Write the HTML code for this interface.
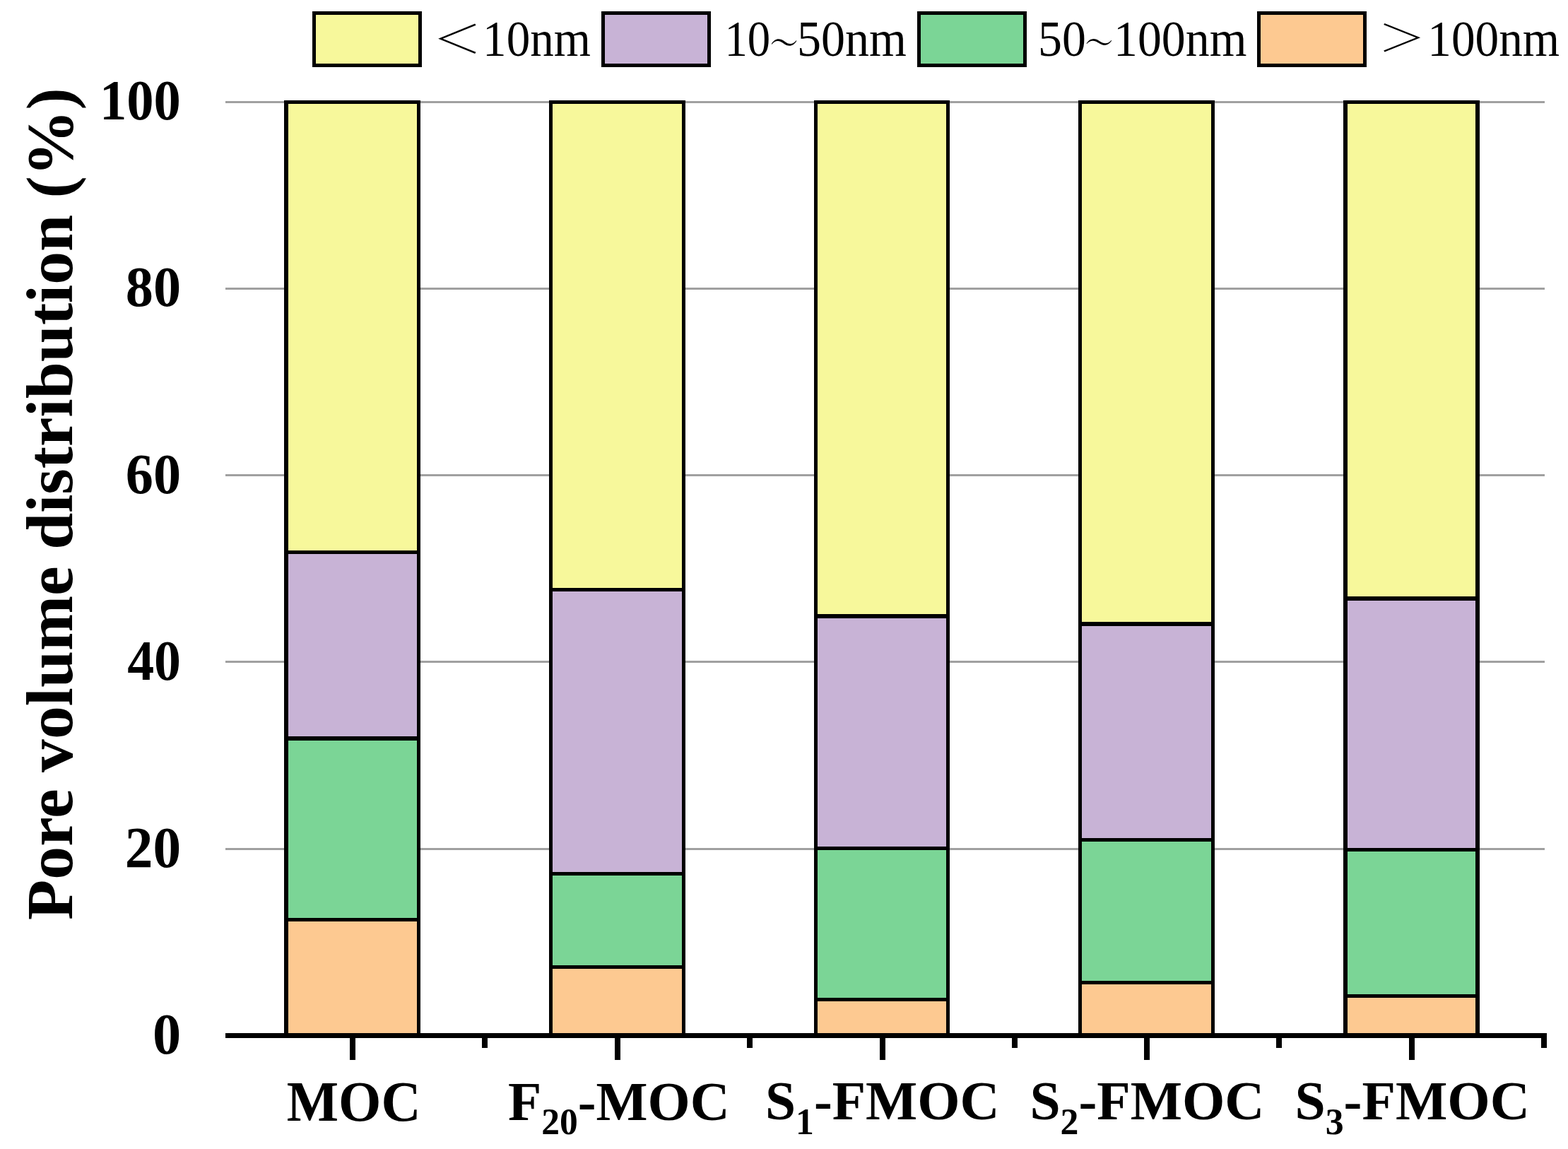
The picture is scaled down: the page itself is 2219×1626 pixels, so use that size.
<!DOCTYPE html><html><head><meta charset="utf-8"><title>Pore volume distribution</title>
<style>html,body{margin:0;padding:0;background:#fff;overflow:hidden;width:2219px;height:1626px}svg{display:block;position:absolute;left:0;top:0}</style></head><body>
<svg width="2219" height="1626" viewBox="0 0 2219 1626" shape-rendering="crispEdges">
<rect x="0" y="0" width="2219" height="1626" fill="#fff"/>
<rect x="319" y="143" width="1867" height="3" fill="#A0A0A0"/>
<rect x="319" y="407" width="1867" height="3" fill="#A0A0A0"/>
<rect x="319" y="671" width="1867" height="3" fill="#A0A0A0"/>
<rect x="319" y="935" width="1867" height="3" fill="#A0A0A0"/>
<rect x="319" y="1200" width="1867" height="3" fill="#A0A0A0"/>
<rect x="402" y="142" width="193" height="1323" fill="#000"/>
<rect x="408" y="147" width="182" height="632" fill="#F7F89B"/>
<rect x="408" y="784" width="182" height="258" fill="#C8B3D6"/>
<rect x="408" y="1048" width="182" height="251" fill="#7BD596"/>
<rect x="408" y="1304" width="182" height="158" fill="#FDC991"/>
<rect x="777" y="142" width="193" height="1323" fill="#000"/>
<rect x="782" y="147" width="183" height="685" fill="#F7F89B"/>
<rect x="782" y="837" width="183" height="397" fill="#C8B3D6"/>
<rect x="782" y="1239" width="183" height="127" fill="#7BD596"/>
<rect x="782" y="1371" width="183" height="91" fill="#FDC991"/>
<rect x="1152" y="142" width="192" height="1323" fill="#000"/>
<rect x="1157" y="147" width="182" height="722" fill="#F7F89B"/>
<rect x="1157" y="875" width="182" height="323" fill="#C8B3D6"/>
<rect x="1157" y="1203" width="182" height="209" fill="#7BD596"/>
<rect x="1157" y="1417" width="182" height="45" fill="#FDC991"/>
<rect x="1526" y="142" width="193" height="1323" fill="#000"/>
<rect x="1531" y="147" width="183" height="733" fill="#F7F89B"/>
<rect x="1531" y="886" width="183" height="300" fill="#C8B3D6"/>
<rect x="1531" y="1191" width="183" height="197" fill="#7BD596"/>
<rect x="1531" y="1393" width="183" height="69" fill="#FDC991"/>
<rect x="1901" y="142" width="193" height="1323" fill="#000"/>
<rect x="1907" y="147" width="181" height="697" fill="#F7F89B"/>
<rect x="1907" y="850" width="181" height="350" fill="#C8B3D6"/>
<rect x="1907" y="1205" width="181" height="202" fill="#7BD596"/>
<rect x="1907" y="1412" width="181" height="50" fill="#FDC991"/>
<rect x="319" y="1462" width="1870" height="7" fill="#000"/>
<rect x="495" y="1465" width="8" height="35" fill="#000"/>
<rect x="870" y="1465" width="8" height="35" fill="#000"/>
<rect x="1245" y="1465" width="7.5" height="35" fill="#000"/>
<rect x="1619" y="1465" width="8" height="35" fill="#000"/>
<rect x="1994" y="1465" width="8" height="35" fill="#000"/>
<rect x="682" y="1465" width="8" height="18" fill="#000"/>
<rect x="1057" y="1465" width="8" height="18" fill="#000"/>
<rect x="1432" y="1465" width="8" height="18" fill="#000"/>
<rect x="1806" y="1465" width="8" height="18" fill="#000"/>
<rect x="2181" y="1465" width="8" height="18" fill="#000"/>
<rect x="442" y="16" width="155" height="79" fill="#000"/>
<rect x="447" y="21" width="145" height="69" fill="#F7F89B"/>
<rect x="851" y="16" width="155" height="79" fill="#000"/>
<rect x="856" y="21" width="145" height="69" fill="#C8B3D6"/>
<rect x="1298" y="16" width="155" height="79" fill="#000"/>
<rect x="1303" y="21" width="145" height="69" fill="#7BD596"/>
<rect x="1779" y="16" width="155" height="79" fill="#000"/>
<rect x="1784" y="21" width="145" height="69" fill="#FDC991"/>
</svg>
<svg width="2219" height="1626" viewBox="0 0 2219 1626">
<g transform="translate(611.87,75.10) scale(1.0038,0.8000)"><text font-family="&quot;Liberation Serif&quot;, &quot;Noto Serif CJK SC&quot;, serif" font-weight="300" font-size="70">＜</text></g>
<g transform="translate(683.04,79.00) scale(0.9599,1.0239)"><text font-family="&quot;Liberation Serif&quot;, &quot;Noto Serif CJK SC&quot;, serif" font-weight="normal" font-size="70">10nm</text></g>
<g transform="translate(1025.44,79.00) scale(0.9262,1.0239)"><text font-family="&quot;Liberation Serif&quot;, &quot;Noto Serif CJK SC&quot;, serif" font-weight="normal" font-size="70">10</text></g>
<g transform="translate(1089.64,77.24) scale(0.5661,0.6571)"><text font-family="&quot;Liberation Serif&quot;, &quot;Noto Serif CJK SC&quot;, serif" font-weight="500" font-size="70">～</text></g>
<g transform="translate(1128.01,79.00) scale(0.9721,1.0239)"><text font-family="&quot;Liberation Serif&quot;, &quot;Noto Serif CJK SC&quot;, serif" font-weight="normal" font-size="70">50nm</text></g>
<g transform="translate(1469.02,78.80) scale(0.9698,1.0196)"><text font-family="&quot;Liberation Serif&quot;, &quot;Noto Serif CJK SC&quot;, serif" font-weight="normal" font-size="70">50</text></g>
<g transform="translate(1535.53,77.00) scale(0.5677,0.6500)"><text font-family="&quot;Liberation Serif&quot;, &quot;Noto Serif CJK SC&quot;, serif" font-weight="500" font-size="70">～</text></g>
<g transform="translate(1576.09,79.00) scale(0.9684,1.0239)"><text font-family="&quot;Liberation Serif&quot;, &quot;Noto Serif CJK SC&quot;, serif" font-weight="normal" font-size="70">100nm</text></g>
<g transform="translate(1950.11,73.40) scale(0.9769,0.7623)"><text font-family="&quot;Liberation Serif&quot;, &quot;Noto Serif CJK SC&quot;, serif" font-weight="300" font-size="70">＞</text></g>
<g transform="translate(2020.23,79.00) scale(0.9615,1.0217)"><text font-family="&quot;Liberation Serif&quot;, &quot;Noto Serif CJK SC&quot;, serif" font-weight="normal" font-size="70">100nm</text></g>
<g transform="translate(141.01,169.00) scale(0.9824,1.0412)"><text font-family="&quot;Liberation Serif&quot;, &quot;Noto Serif CJK SC&quot;, serif" font-weight="bold" font-size="78">100</text></g>
<g transform="translate(177.79,433.00) scale(1.0042,1.0412)"><text font-family="&quot;Liberation Serif&quot;, &quot;Noto Serif CJK SC&quot;, serif" font-weight="bold" font-size="78">80</text></g>
<g transform="translate(177.79,697.90) scale(1.0042,1.0412)"><text font-family="&quot;Liberation Serif&quot;, &quot;Noto Serif CJK SC&quot;, serif" font-weight="bold" font-size="78">60</text></g>
<g transform="translate(180.13,961.90) scale(0.9730,1.0392)"><text font-family="&quot;Liberation Serif&quot;, &quot;Noto Serif CJK SC&quot;, serif" font-weight="bold" font-size="78">40</text></g>
<g transform="translate(176.75,1226.50) scale(1.0167,1.0490)"><text font-family="&quot;Liberation Serif&quot;, &quot;Noto Serif CJK SC&quot;, serif" font-weight="bold" font-size="78">20</text></g>
<g transform="translate(215.91,1490.50) scale(1.0303,1.0490)"><text font-family="&quot;Liberation Serif&quot;, &quot;Noto Serif CJK SC&quot;, serif" font-weight="bold" font-size="78">0</text></g>
<g transform="translate(405.80,1585.80) scale(0.9957,1.0392)"><text font-family="&quot;Liberation Serif&quot;, &quot;Noto Serif CJK SC&quot;, serif" font-weight="bold" font-size="78">MOC</text></g>
<g transform="translate(718.91,1584.58) scale(0.9922,1.0153)"><text font-family="&quot;Liberation Serif&quot;, &quot;Noto Serif CJK SC&quot;, serif" font-weight="bold" font-size="78">F<tspan font-size="52" dy="20.5">20</tspan><tspan dy="-20.5">-MOC</tspan></text></g>
<g transform="translate(1083.03,1584.30) scale(0.9932,1.0097)"><text font-family="&quot;Liberation Serif&quot;, &quot;Noto Serif CJK SC&quot;, serif" font-weight="bold" font-size="78">S<tspan font-size="52" dy="20.5">1</tspan><tspan dy="-20.5">-FMOC</tspan></text></g>
<g transform="translate(1457.42,1584.30) scale(0.9951,1.0097)"><text font-family="&quot;Liberation Serif&quot;, &quot;Noto Serif CJK SC&quot;, serif" font-weight="bold" font-size="78">S<tspan font-size="52" dy="20.5">2</tspan><tspan dy="-20.5">-FMOC</tspan></text></g>
<g transform="translate(1832.51,1584.44) scale(0.9963,1.0125)"><text font-family="&quot;Liberation Serif&quot;, &quot;Noto Serif CJK SC&quot;, serif" font-weight="bold" font-size="78">S<tspan font-size="52" dy="20.5">3</tspan><tspan dy="-20.5">-FMOC</tspan></text></g>
<g transform="translate(102.26,1301.95) scale(0.9721,0.9766) rotate(-90)"><text font-family="&quot;Liberation Serif&quot;, &quot;Noto Serif CJK SC&quot;, serif" font-weight="bold" font-size="96">Pore volume distribution (%)</text></g>
</svg>
</body></html>
